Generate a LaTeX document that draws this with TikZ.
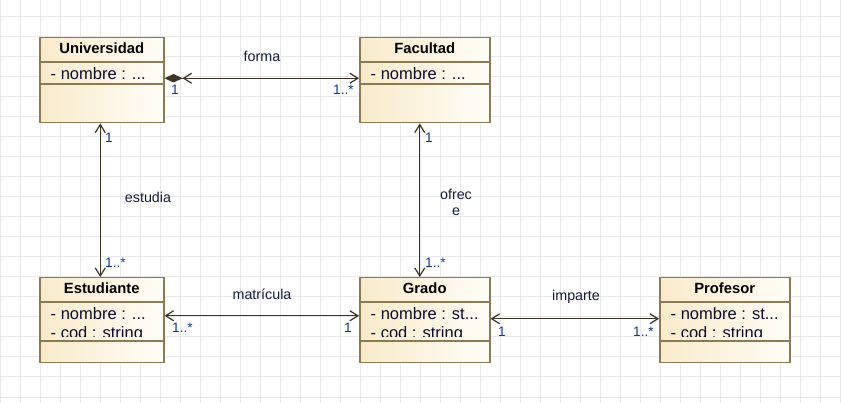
\documentclass[tikz,border=0pt]{standalone}
\usepackage{fontspec}
\setmainfont{Liberation Sans}
\usetikzlibrary{arrows.meta}
\definecolor{gridc}{RGB}{232,232,232}
\definecolor{boxc}{RGB}{140,122,82}
\definecolor{boxl}{RGB}{249,235,203}
\definecolor{boxr}{RGB}{255,253,247}
\definecolor{linec}{RGB}{60,52,38}
\definecolor{lblc}{RGB}{20,28,60}
\definecolor{multc}{RGB}{10,60,140}
\definecolor{attrc}{RGB}{12,12,40}
\tikzset{
  gridline/.style={draw=gridc, line width=1pt},
  classbox/.style={draw=boxc, line width=1.5pt, left color=boxl, right color=boxr, inner sep=0pt, anchor=north west},
  divline/.style={draw=boxc, line width=1.3pt},
  cname/.style={font=\fontsize{14.8}{17}\selectfont\bfseries, anchor=base, inner sep=0pt},
  attr/.style={font=\fontsize{16.5}{19}\selectfont, text=attrc, anchor=base west, inner sep=0pt},
  lbl/.style={font=\fontsize{14.3}{16}\selectfont, text=lblc, anchor=base, inner sep=0pt},
  mult/.style={font=\fontsize{13.7}{15}\selectfont, text=multc, anchor=base west, inner sep=0pt},
  assoc/.style={draw=linec, line width=1.2pt}
}
\begin{document}
\begin{tikzpicture}[x=1pt,y=-1pt]
\useasboundingbox (0,0) rectangle (841,403);
\fill[white] (0,0) rectangle (841,403);
% grid
\foreach \x in {0,20,...,840} \draw[gridline] (\x,0) -- (\x,403);
\foreach \y in {17,37,...,397} \draw[gridline] (0,\y) -- (841,\y);

% class boxes
\node[classbox, minimum width=124pt, minimum height=85pt] (univ) at (39,37) {};
\node[classbox, minimum width=130pt, minimum height=85pt] (fac) at (359,37) {};
\node[classbox, minimum width=124pt, minimum height=85pt] (est) at (39,277) {};
\node[classbox, minimum width=130pt, minimum height=85pt] (grado) at (359,277) {};
\node[classbox, minimum width=130pt, minimum height=85pt] (prof) at (659,277) {};

% dividers
\foreach \n in {univ,fac}{
  \draw[divline] (\n.west |- 0,62) -- (\n.east |- 0,62);
  \draw[divline] (\n.west |- 0,84) -- (\n.east |- 0,84);
}
\foreach \n in {est,grado,prof}{
  \draw[divline] (\n.west |- 0,302) -- (\n.east |- 0,302);
  \draw[divline] (\n.west |- 0,341) -- (\n.east |- 0,341);
}

% names
\node[cname] (univn) at (univ.center |- 0,54) {Universidad};
\node[cname] (facn) at (fac.center |- 0,54) {Facultad};
\node[cname] (estn) at (est.center |- 0,294) {Estudiante};
\node[cname] (gradon) at (grado.center |- 0,294) {Grado};
\node[cname] (profn) at (prof.center |- 0,294) {Profesor};

% attributes
\node[attr] (univa) at (50.5,79.3) {- nombre : ...};
\node[attr] (faca) at (370.5,79.3) {- nombre : ...};
\begin{scope}
\clip (39,303) rectangle (163,337);
\node[attr] (esta1) at (50.5,319.3) {- nombre : ...};
\node[attr] (esta2) at (50.5,338.3) {- cod : string};
\end{scope}
\begin{scope}
\clip (359,303) rectangle (489,337);
\node[attr] (gradoa1) at (370.5,319.3) {- nombre : st...};
\node[attr] (gradoa2) at (370.5,338.3) {- cod : string};
\end{scope}
\begin{scope}
\clip (659,303) rectangle (789,337);
\node[attr] (profa1) at (670.5,319.3) {- nombre : st...};
\node[attr] (profa2) at (670.5,338.3) {- cod : string};
\end{scope}

% connectors
\draw[assoc, {Diamond[length=18pt,width=8.5pt,fill=linec]Straight Barb[length=8pt,width=10pt]}-{Straight Barb[length=8pt,width=10pt]}] ([yshift=2pt]univ.east) -- ([yshift=2pt]fac.west);
\draw[assoc, {Straight Barb[length=8pt,width=10pt]}-{Straight Barb[length=8pt,width=10pt]}] ([xshift=-1.5pt]univ.south) -- ([xshift=-1.5pt]est.north);
\draw[assoc, {Straight Barb[length=8pt,width=10pt]}-{Straight Barb[length=8pt,width=10pt]}] ([xshift=-5pt]fac.south) -- ([xshift=-5pt]grado.north);
\draw[assoc, {Straight Barb[length=8pt,width=10pt]}-{Straight Barb[length=8pt,width=10pt]}] ([yshift=4.5pt]est.east) -- ([yshift=4.5pt]grado.west);
\draw[assoc, {Straight Barb[length=8pt,width=10pt]}-{Straight Barb[length=8pt,width=10pt]}] ([yshift=1.5pt]grado.east) -- ([yshift=1.5pt]prof.west);

% labels
\node[lbl] (lforma) at (262,61.7) {forma};
\node[lbl] (lestudia) at (148,203) {estudia};
\node[lbl, align=center] (lofrece) at (456,216) {ofrec\\e};
\node[lbl] (lmatricula) at (262,300) {matrícula};
\node[lbl] (limparte) at (576,300.5) {imparte};

% multiplicities
\node[mult] at (171,95) {1};
\node[mult] at (333,95) {1..*};
\node[mult] at (105,143) {1};
\node[mult] at (105,268) {1..*};
\node[mult] at (425,143) {1};
\node[mult] at (425,268) {1..*};
\node[mult] at (172,333) {1..*};
\node[mult] at (344,333) {1};
\node[mult] at (498,336.5) {1};
\node[mult] at (633,336.5) {1..*};
\end{tikzpicture}
\end{document}
